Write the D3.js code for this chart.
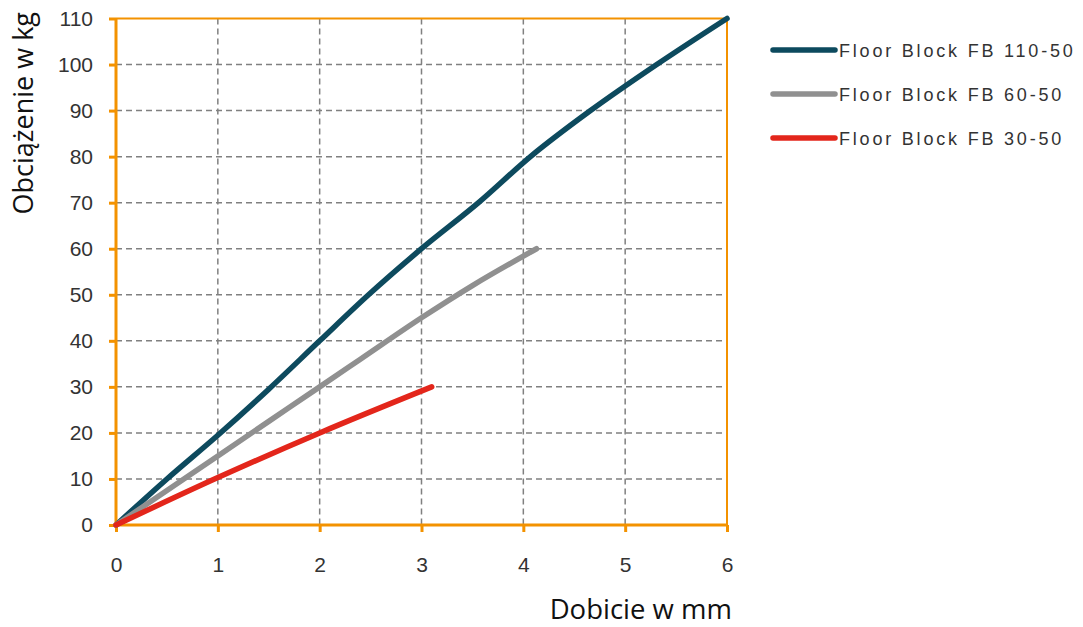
<!DOCTYPE html>
<html><head><meta charset="utf-8">
<script src="https://cdn.jsdelivr.net/npm/d3@7"></script>
<style>body{margin:0;background:#fff}</style>
</head><body>
<svg id="c" width="1083" height="627"></svg>
<script>
const seriesNames = ["Floor Block FB 110-50", "Floor Block FB 60-50", "Floor Block FB 30-50"];
const seriesColors = ["#0d4a5e", "#909090", "#e3261b"];
const fb110 = [[0,0],[0.5,10],[1,19.5],[1.5,29.5],[2,40],[2.48,50],[3,60],[3.56,70],[4.07,80],[4.66,90],[5.31,100],[6,110]];
const fb60 = [[0,0],[0.5,7.5],[1,15],[1.5,22.5],[2,30],[2.4,36],[3,45],[3.5,52],[4.13,60]];
const fb30 = [[0,0],[1,10.3],[2,20],[3.1,30]];
const xTicks = [0,1,2,3,4,5,6];
const yTicks = [0,10,20,30,40,50,60,70,80,90,100,110];

const svg = d3.select("#c");
const L=116, R=727, T=18.5, B=525;
const x = d3.scaleLinear().domain([0,6]).range([L,R]);
const y = d3.scaleLinear().domain([0,110]).range([B,T]);
const orange = "#f39200";

// grid
svg.append("g").selectAll("line").data(yTicks.filter(v=>v>0&&v<110)).join("line")
  .attr("x1",L).attr("x2",R).attr("y1",d=>y(d)).attr("y2",d=>y(d))
  .attr("stroke","#808080").attr("stroke-width",1.5).attr("stroke-dasharray","6,4");
svg.append("g").selectAll("line").data(xTicks.filter(v=>v>0&&v<6)).join("line")
  .attr("x1",d=>x(d)).attr("x2",d=>x(d)).attr("y1",T).attr("y2",B)
  .attr("stroke","#808080").attr("stroke-width",1.5).attr("stroke-dasharray","6,4");

// border top/right
svg.append("line").attr("x1",L).attr("x2",R).attr("y1",T).attr("y2",T).attr("stroke",orange).attr("stroke-width",2);
svg.append("line").attr("x1",R).attr("x2",R).attr("y1",T).attr("y2",B).attr("stroke",orange).attr("stroke-width",2);

// axes
const xAxis = svg.append("g").attr("transform",`translate(0,${B})`)
  .call(d3.axisBottom(x).tickValues(xTicks).tickSize(7).tickPadding(25).tickFormat(d3.format("d")));
const yAxis = svg.append("g").attr("transform",`translate(${L},0)`)
  .call(d3.axisLeft(y).tickValues(yTicks).tickSize(7).tickPadding(16).tickFormat(d3.format("d")));
[xAxis,yAxis].forEach(a=>{
  a.attr("font-size",null).attr("font-family",null);
  a.select(".domain").attr("stroke",orange).attr("stroke-width",3);
  a.selectAll(".tick line").attr("stroke",orange).attr("stroke-width",3);
  a.selectAll("text").attr("fill","#333").style("font-family","'Liberation Sans', Arial").style("font-size","21px");
});
xAxis.select(".domain").attr("d",`M${L},0H${R}`);
yAxis.select(".domain").attr("d",`M0,${B}V${T}`);

// lines
const line = d3.line().x(d=>x(d[0])).y(d=>y(d[1])).curve(d3.curveMonotoneX);
[fb110, fb60, fb30].forEach((s,i)=>{
  svg.append("path").datum(s).attr("d",line).attr("fill","none")
    .attr("stroke",seriesColors[i]).attr("stroke-width",5.5)
    .attr("stroke-linecap","round").attr("stroke-linejoin","round");
});

// legend
const lg = svg.append("g");
seriesNames.forEach((n,i)=>{
  const yy = 50 + i*44;
  lg.append("line").attr("x1",773).attr("x2",835).attr("y1",yy).attr("y2",yy)
    .attr("stroke",seriesColors[i]).attr("stroke-width",5.5).attr("stroke-linecap","round");
  lg.append("text").attr("x",839).attr("y",yy+6.5).text(n)
    .attr("font-family","Liberation Sans, Arial").attr("font-size",18).attr("fill","#333")
    .attr("letter-spacing",2.8);
});

// titles
svg.append("text").attr("transform","translate(33,12) rotate(-90)")
  .attr("text-anchor","end").attr("font-family","Open Sans").attr("font-size",27).attr("fill","#111")
  .text("Obciążenie w kg");
svg.append("text").attr("x",732).attr("y",619).attr("text-anchor","end")
  .attr("font-family","Open Sans").attr("font-size",27.5).attr("fill","#111")
  .text("Dobicie w mm");
</script>
</body></html>
